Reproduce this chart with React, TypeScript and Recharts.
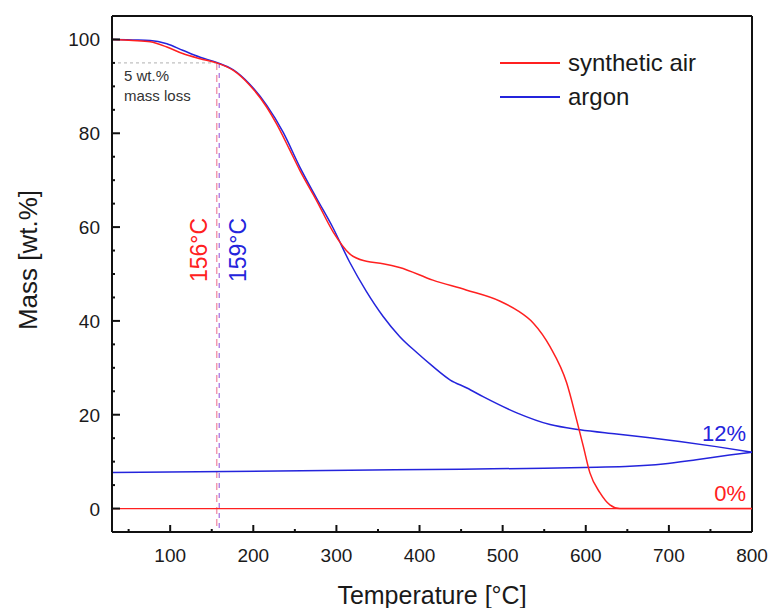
import React from 'react';
import { LineChart, Line, XAxis, YAxis, ReferenceLine } from 'recharts';

// TGA: mass loss of the sample in synthetic air and in argon

const airHeatT = [30, 55, 76, 96, 115, 136, 156, 176, 196, 216, 228, 244, 256, 276, 296, 316, 336, 356, 376, 416, 456, 497, 517, 537, 557, 577, 589, 597, 605, 617, 629, 641, 700, 800];
const airHeatM = [100, 99.8, 99.5, 98.4, 97.0, 95.9, 95.0, 93.4, 90.2, 85.6, 82.0, 76.4, 72.1, 65.7, 59.0, 54.3, 52.7, 52.2, 51.4, 48.7, 46.6, 44.2, 42.3, 39.5, 34.5, 26.8, 18.9, 13.3, 7.6, 3.4, 0.8, 0, 0, 0];
// cooling run, stored in rising temperature order
const airCoolT = [30, 800];
const airCoolM = [0, 0];

const argonHeatT = [30, 55, 76, 96, 115, 136, 156, 176, 196, 216, 236, 256, 276, 296, 316, 336, 356, 376, 397, 416, 437, 457, 477, 517, 557, 593, 637, 677, 713, 757, 800];
const argonHeatM = [100, 99.9, 99.8, 99.1, 97.7, 96.2, 95.1, 93.5, 90.4, 86.0, 80.2, 72.8, 66.2, 59.8, 52.5, 46.3, 41.0, 36.7, 33.2, 30.3, 27.4, 25.7, 23.8, 20.4, 17.9, 16.8, 15.9, 15.1, 14.3, 13.2, 12.0];
const argonCoolT = [30, 316, 450, 550, 613, 653, 693, 733, 773, 800];
const argonCoolM = [7.7, 8.15, 8.4, 8.6, 8.8, 9.0, 9.5, 10.4, 11.4, 12.0];

const tempTicks = [50, 100, 150, 200, 250, 300, 350, 400, 450, 500, 550, 600, 650, 700, 750, 800];
const massTicks = [0, 5, 10, 15, 20, 25, 30, 35, 40, 45, 50, 55, 60, 65, 70, 75, 80, 85, 90, 95, 100];

const onsetAir = 156;
const onsetArgon = 159;
const lossLevel = 95;

const RED = '#ff2020';
const BLUE = '#2424dc';
const FONT = '"Liberation Sans", Arial, sans-serif';

const toRows = (t: number[], m: number[]) => t.map((v, i) => ({ t: v, m: m[i] }));

function XTick({ x, y, payload }: any) {
  const major = payload.value % 100 === 0;
  return (
    <g>
      <line x1={x} x2={x} y1={y} y2={y - (major ? 7 : 3)} stroke="#111" strokeWidth={2} />
      {major && (
        <text x={x} y={y + 30} textAnchor="middle" fontSize={19} fontFamily={FONT} fill="#1a1a1a">
          {payload.value}
        </text>
      )}
    </g>
  );
}

function YTick({ x, y, payload }: any) {
  const major = payload.value % 20 === 0;
  return (
    <g>
      <line x1={x} x2={x + (major ? 8 : 3)} y1={y} y2={y} stroke="#111" strokeWidth={2} />
      {major && (
        <text x={x - 12} y={y + 7} textAnchor="end" fontSize={19} fontFamily={FONT} fill="#1a1a1a">
          {payload.value}
        </text>
      )}
    </g>
  );
}

export default function App() {
  return (
    <div style={{ position: 'absolute', left: 0, top: 0, width: 773, height: 608, background: '#fff' }}>
      <LineChart width={773} height={608} margin={{ top: 16, right: 21, left: 52, bottom: 36 }}>
        <XAxis
          dataKey="t"
          type="number"
          domain={[30, 800]}
          ticks={tempTicks}
          interval={0}
          allowDataOverflow
          tickLine={false}
          tickSize={0}
          tickMargin={0}
          height={40}
          axisLine={{ stroke: '#111', strokeWidth: 2 }}
          tick={<XTick />}
        />
        <YAxis
          type="number"
          domain={[-5, 105]}
          ticks={massTicks}
          interval={0}
          allowDataOverflow
          tickLine={false}
          tickSize={0}
          tickMargin={0}
          width={60}
          axisLine={{ stroke: '#111', strokeWidth: 2 }}
          tick={<YTick />}
        />
        <ReferenceLine y={105} stroke="#111" strokeWidth={2} />
        <ReferenceLine x={800} stroke="#111" strokeWidth={2} />
        <ReferenceLine segment={[{ x: 30, y: lossLevel }, { x: onsetAir, y: lossLevel }]} stroke="#b0b0b0" strokeDasharray="3 3" />
        <ReferenceLine segment={[{ x: onsetAir, y: lossLevel }, { x: onsetAir, y: -5 }]} stroke="#f29ab0" strokeWidth={1.5} strokeDasharray="7 5" />
        <ReferenceLine segment={[{ x: onsetArgon, y: lossLevel }, { x: onsetArgon, y: -5 }]} stroke="#a46ee0" strokeWidth={1.2} strokeDasharray="5 5" />

        <Line data={toRows(argonCoolT, argonCoolM)} dataKey="m" type="monotone" stroke={BLUE} strokeWidth={1.5} dot={false} activeDot={false} isAnimationActive={false} />
        <Line data={toRows(argonHeatT, argonHeatM)} dataKey="m" type="monotone" stroke={BLUE} strokeWidth={1.5} dot={false} activeDot={false} isAnimationActive={false} />
        <Line data={toRows(airCoolT, airCoolM)} dataKey="m" type="linear" stroke={RED} strokeWidth={1.2} dot={false} activeDot={false} isAnimationActive={false} />
        <Line data={toRows(airHeatT, airHeatM)} dataKey="m" type="monotone" stroke={RED} strokeWidth={1.5} dot={false} activeDot={false} isAnimationActive={false} />
      </LineChart>

      <svg width={773} height={608} style={{ position: 'absolute', left: 0, top: 0, pointerEvents: 'none' }} fontFamily={FONT}>
        <line x1={500} x2={560} y1={63} y2={63} stroke={RED} strokeWidth={2} />
        <text x={568} y={71} fontSize={24} fill="#1a1a1a">synthetic air</text>
        <line x1={500} x2={560} y1={97} y2={97} stroke={BLUE} strokeWidth={2} />
        <text x={568} y={105} fontSize={24} fill="#1a1a1a">argon</text>

        <text x={124} y={81} fontSize={15} fill="#333">5 wt.%</text>
        <text x={124} y={101} fontSize={15} fill="#333">mass loss</text>

        <text transform="translate(207 250) rotate(-90)" textAnchor="middle" fontSize={23} fill={RED}>156°C</text>
        <text transform="translate(246 250) rotate(-90)" textAnchor="middle" fontSize={23} fill={BLUE}>159°C</text>

        <text x={746} y={441} textAnchor="end" fontSize={22} fill={BLUE}>12%</text>
        <text x={746} y={501} textAnchor="end" fontSize={22} fill={RED}>0%</text>

        <text transform="translate(37 260) rotate(-90)" textAnchor="middle" fontSize={26} fill="#1a1a1a">Mass [wt.%]</text>
        <text x={432} y={604} textAnchor="middle" fontSize={25} fill="#1a1a1a">Temperature [°C]</text>
      </svg>
    </div>
  );
}
